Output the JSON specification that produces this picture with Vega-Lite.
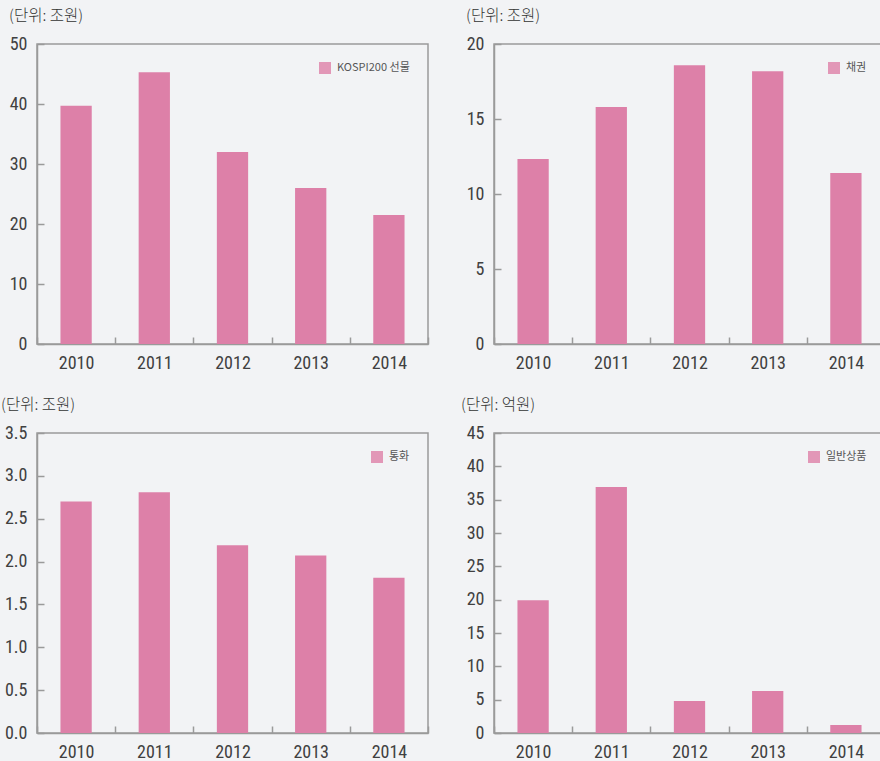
{
  "$schema": "https://vega.github.io/schema/vega-lite/v6.json",
  "background": "#f2f3f5",
  "padding": {"left": 0, "top": 7, "right": 0, "bottom": 0},
  "columns": 2,
  "spacing": {"column": 66, "row": 89},
  "bounds": "flush",
  "config": {
    "view": {"stroke": "#9a9a9a", "strokeWidth": 1.5},
    "axis": {
      "labelFont": "Liberation Sans Narrow, Roboto Condensed, Liberation Sans",
      "labelFontSize": 18,
      "labelColor": "#404040",
      "domainColor": "#9a9a9a",
      "domainWidth": 1.5,
      "tickColor": "#9a9a9a",
      "tickWidth": 1.5,
      "tickSize": -7,
      "grid": false,
      "title": null
    },
    "title": {
      "font": "Noto Sans CJK KR",
      "fontSize": 15.5,
      "fontWeight": 300,
      "color": "#333333",
      "anchor": "start",
      "frame": "group",
      "offset": 11
    },
    "legend": {
      "orient": "top-right",
      "offset": 18,
      "padding": 0,
      "title": null,
      "symbolType": "square",
      "symbolSize": 144,
      "symbolStrokeWidth": 0,
      "symbolOpacity": 0.8,
      "labelFont": "Noto Sans CJK KR",
      "labelFontSize": 11,
      "labelFontWeight": "normal",
      "labelColor": "#555555",
      "labelOffset": 6
    }
  },
  "concat": [
    {
      "width": 391, "height": 300,
      "title": {"text": "(단위: 조원)", "dx": -28},
      "data": {"values": [
        {"year": "2010", "value": 39.7, "series": "KOSPI200 선물"},
        {"year": "2011", "value": 45.3, "series": "KOSPI200 선물"},
        {"year": "2012", "value": 32.0, "series": "KOSPI200 선물"},
        {"year": "2013", "value": 26.0, "series": "KOSPI200 선물"},
        {"year": "2014", "value": 21.5, "series": "KOSPI200 선물"}
      ]},
      "mark": {"type": "bar", "width": {"band": 0.4}},
      "encoding": {
        "x": {"field": "year", "type": "nominal", "scale": {"paddingInner": 0, "paddingOuter": 0},
              "axis": {"labelAngle": 0, "tickBand": "extent", "labelPadding": 17}},
        "y": {"field": "value", "type": "quantitative", "scale": {"domain": [0, 50]},
              "axis": {"values": [0, 10, 20, 30, 40, 50], "labelPadding": 17}},
        "color": {"field": "series", "type": "nominal", "scale": {"range": ["#dd80a8"]}}
      }
    },
    {
      "width": 391, "height": 300,
      "title": {"text": "(단위: 조원)", "dx": -28},
      "data": {"values": [
        {"year": "2010", "value": 12.33, "series": "채권"},
        {"year": "2011", "value": 15.8, "series": "채권"},
        {"year": "2012", "value": 18.58, "series": "채권"},
        {"year": "2013", "value": 18.18, "series": "채권"},
        {"year": "2014", "value": 11.4, "series": "채권"}
      ]},
      "mark": {"type": "bar", "width": {"band": 0.4}},
      "encoding": {
        "x": {"field": "year", "type": "nominal", "scale": {"paddingInner": 0, "paddingOuter": 0},
              "axis": {"labelAngle": 0, "tickBand": "extent", "labelPadding": 17}},
        "y": {"field": "value", "type": "quantitative", "scale": {"domain": [0, 20]},
              "axis": {"values": [0, 5, 10, 15, 20], "labelPadding": 17}},
        "color": {"field": "series", "type": "nominal", "scale": {"range": ["#dd80a8"]}}
      }
    },
    {
      "width": 391, "height": 300,
      "title": {"text": "(단위: 조원)", "dx": -36},
      "data": {"values": [
        {"year": "2010", "value": 2.70, "series": "통화"},
        {"year": "2011", "value": 2.81, "series": "통화"},
        {"year": "2012", "value": 2.19, "series": "통화"},
        {"year": "2013", "value": 2.07, "series": "통화"},
        {"year": "2014", "value": 1.81, "series": "통화"}
      ]},
      "mark": {"type": "bar", "width": {"band": 0.4}},
      "encoding": {
        "x": {"field": "year", "type": "nominal", "scale": {"paddingInner": 0, "paddingOuter": 0},
              "axis": {"labelAngle": 0, "tickBand": "extent", "labelPadding": 17}},
        "y": {"field": "value", "type": "quantitative", "scale": {"domain": [0, 3.5]},
              "axis": {"values": [0, 0.5, 1, 1.5, 2, 2.5, 3, 3.5], "format": ".1f", "labelPadding": 17}},
        "color": {"field": "series", "type": "nominal", "scale": {"range": ["#dd80a8"]}}
      }
    },
    {
      "width": 391, "height": 300,
      "title": {"text": "(단위: 억원)", "dx": -33},
      "data": {"values": [
        {"year": "2010", "value": 19.9, "series": "일반상품"},
        {"year": "2011", "value": 36.9, "series": "일반상품"},
        {"year": "2012", "value": 4.8, "series": "일반상품"},
        {"year": "2013", "value": 6.3, "series": "일반상품"},
        {"year": "2014", "value": 1.2, "series": "일반상품"}
      ]},
      "mark": {"type": "bar", "width": {"band": 0.4}},
      "encoding": {
        "x": {"field": "year", "type": "nominal", "scale": {"paddingInner": 0, "paddingOuter": 0},
              "axis": {"labelAngle": 0, "tickBand": "extent", "labelPadding": 17}},
        "y": {"field": "value", "type": "quantitative", "scale": {"domain": [0, 45]},
              "axis": {"values": [0, 5, 10, 15, 20, 25, 30, 35, 40, 45], "labelPadding": 17}},
        "color": {"field": "series", "type": "nominal", "scale": {"range": ["#dd80a8"]}}
      }
    }
  ],
  "resolve": {"scale": {"color": "independent"}}
}
